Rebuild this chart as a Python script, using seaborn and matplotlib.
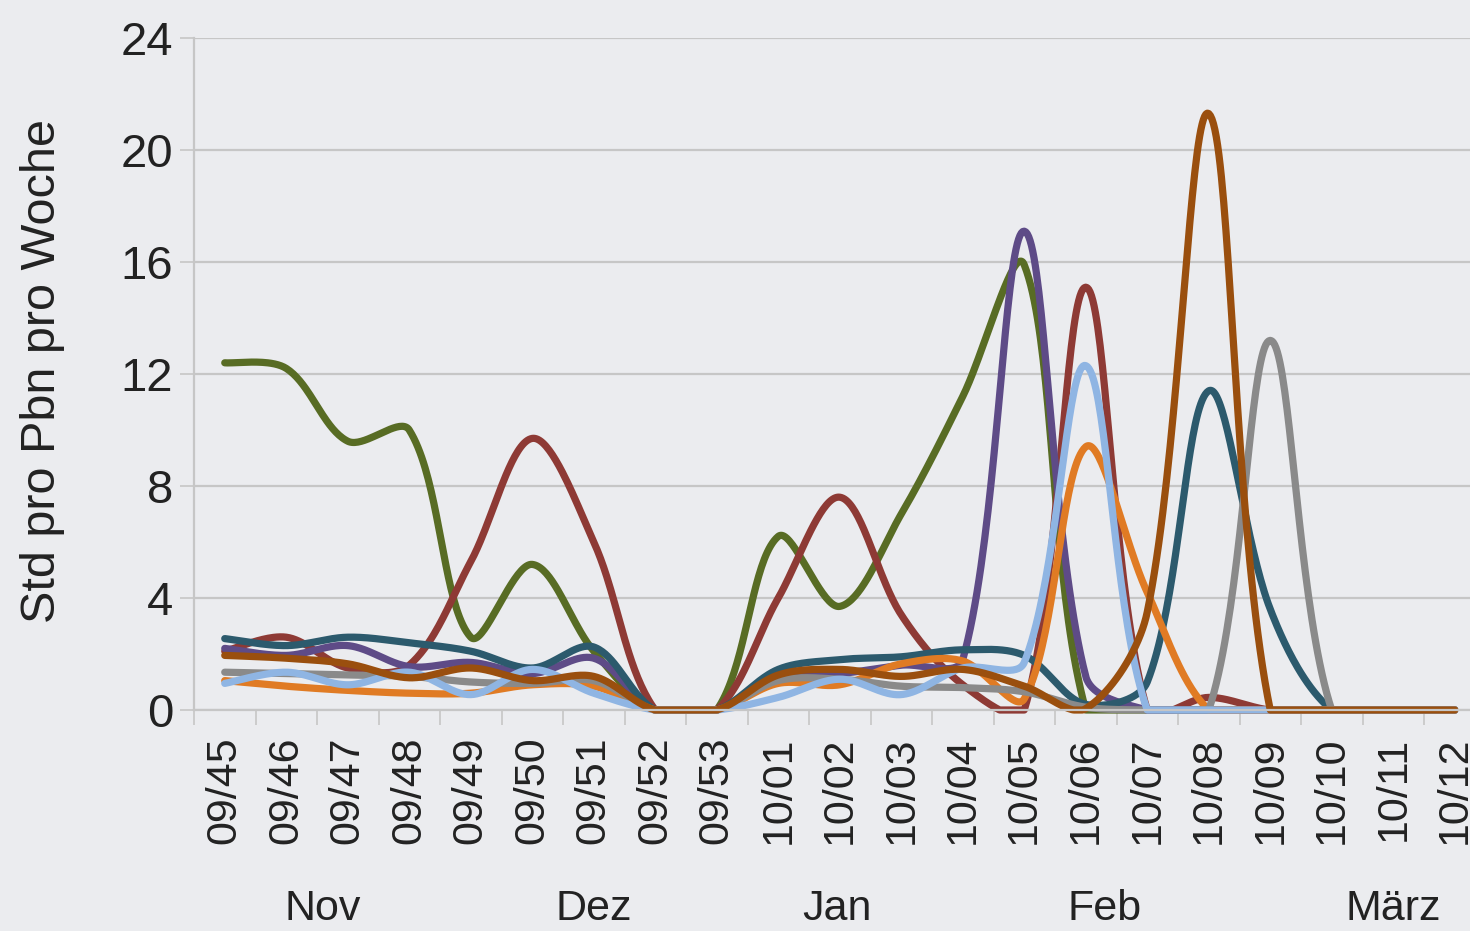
import numpy as np
import pandas as pd
import matplotlib
matplotlib.use("Agg")
import matplotlib.pyplot as plt
import matplotlib.transforms as mtransforms
import seaborn as sns

# ============================================================
# DATA (Std pro Pbn pro Woche)
# ============================================================

wochen = ["09/45", "09/46", "09/47", "09/48", "09/49", "09/50", "09/51", "09/52", "09/53",
          "10/01", "10/02", "10/03", "10/04", "10/05", "10/06", "10/07", "10/08", "10/09",
          "10/10", "10/11", "10/12"]

gruen = [12.4, 12.2, 9.6, 10.0, 2.6, 5.2, 2.1, 0, 0, 6.2, 3.7, 7.0, 11.2, 15.9, 0, 0, 0, 0, 0, 0, 0]
rot = [2.1, 2.6, 1.5, 1.6, 5.3, 9.7, 6.0, 0, 0, 4.0, 7.6, 3.4, 0.9, 0, 15.1, 0, 0.45, 0, 0, 0, 0]
lila = [2.2, 1.95, 2.3, 1.55, 1.7, 1.3, 1.85, 0, 0, 1.2, 1.3, 1.6, 1.8, 17.1, 1.2, 0, 0, 0, 0, 0, 0]
petrol = [2.55, 2.3, 2.6, 2.4, 2.1, 1.5, 2.25, 0, 0, 1.45, 1.8, 1.9, 2.15, 1.95, 0.2, 1.0, 11.4, 3.6, 0, 0, 0]
hellblau = [0.95, 1.35, 0.9, 1.35, 0.55, 1.45, 0.6, 0, 0, 0.45, 1.1, 0.55, 1.5, 1.7, 12.3, 0, 0, 0, 0, 0, 0]
orange = [1.05, 0.85, 0.7, 0.6, 0.6, 0.9, 0.85, 0, 0, 0.95, 0.9, 1.65, 1.75, 0.4, 9.4, 4.2, 0, 0, 0, 0, 0]
grau = [1.35, 1.3, 1.25, 1.2, 1.0, 0.95, 1.05, 0, 0, 1.05, 1.1, 0.85, 0.8, 0.65, 0.1, 0, 0, 13.2, 0, 0, 0]
braun = [1.95, 1.85, 1.65, 1.15, 1.5, 1.05, 1.2, 0, 0, 1.25, 1.45, 1.2, 1.45, 0.85, 0.05, 3.5, 21.3, 0, 0, 0, 0]

serien = {
    "gruen": gruen, "rot": rot, "lila": lila, "petrol": petrol,
    "orange": orange, "grau": grau, "hellblau": hellblau, "braun": braun,
}
farben = {
    "gruen": "#586c24", "rot": "#8e3a35", "lila": "#5e4b87", "petrol": "#2c5a6d",
    "orange": "#e07b24", "grau": "#8a8a8a", "hellblau": "#8fb5e3", "braun": "#9a4f0e",
}

monate = ["Nov", "Dez", "Jan", "Feb", "März"]
monat_pos = [1.6, 6.0, 9.95, 14.3, 19.0]

y_ticks = [0, 4, 8, 12, 16, 20, 24]

# ============================================================
# SMOOTHING (Excel-style Bezier through the read points)
# ============================================================

PX_X, PX_Y = 61.5, 28.0  # screen pixels per category / per unit


def glatt(werte, n=40, t=1 / 3):
    p = np.column_stack([np.arange(len(werte)) * PX_X, np.asarray(werte, float) * PX_Y])
    k = len(p)
    d = np.linalg.norm(np.diff(p, axis=0), axis=1)
    c_out = np.zeros_like(p)
    c_in = np.zeros_like(p)
    for i in range(k):
        if i == 0:
            tan = p[1] - p[0]
            c_out[i] = p[i] + tan * t * 0.5
        elif i == k - 1:
            tan = p[-1] - p[-2]
            c_in[i] = p[i] - tan * t * 0.5
        else:
            tan = p[i + 1] - p[i - 1]
            s = d[i - 1] + d[i]
            c_out[i] = p[i] + tan * t * d[i] / s
            c_in[i] = p[i] - tan * t * d[i - 1] / s
    u = np.linspace(0, 1, n, endpoint=False)[:, None]
    segs = []
    for i in range(k - 1):
        b = ((1 - u) ** 3 * p[i] + 3 * (1 - u) ** 2 * u * c_out[i]
             + 3 * (1 - u) * u ** 2 * c_in[i + 1] + u ** 3 * p[i + 1])
        segs.append(b)
    segs.append(p[-1:])
    pts = np.vstack(segs)
    return pts[:, 0] / PX_X, np.maximum(pts[:, 1] / PX_Y, 0)


rows = []
for name, werte in serien.items():
    xs, ys = glatt(werte)
    rows.append(pd.DataFrame({"x": xs, "wert": ys, "serie": name}))
df = pd.concat(rows, ignore_index=True)

# ============================================================
# PLOT
# ============================================================

sns.set_theme(style="white")
plt.rcParams["font.family"] = ["Liberation Sans", "DejaVu Sans"]

bg = "#ebecef"
grid_c = "#c6c6c6"

fig = plt.figure(figsize=(14.7, 9.31), dpi=100, facecolor=bg)
ax = fig.add_axes([194 / 1470, 221 / 931, 1291.5 / 1470, 672 / 931])
ax.set_facecolor(bg)

for y in y_ticks:
    ax.axhline(y, color=grid_c, lw=1.6, zorder=0)

sns.lineplot(data=df, x="x", y="wert", hue="serie", palette=farben, hue_order=list(serien.keys()),
             sort=False, estimator=None, linewidth=5.2, legend=False, ax=ax,
             solid_capstyle="round", solid_joinstyle="round", clip_on=False)

ax.set_xlim(-0.5, 20.5)
ax.set_ylim(0, 24)

ax.set_yticks(y_ticks)
ax.set_yticklabels([str(v) for v in y_ticks], fontsize=34, color="#222222")
ax.tick_params(axis="y", length=10, width=1.2, color=grid_c, pad=5, left=True)

ax.set_xticks(range(len(wochen)))
ax.set_xticklabels(wochen, rotation=90, fontsize=31, color="#222222")
ax.set_xticks(np.arange(-0.5, 20.6, 1), minor=True)
ax.tick_params(axis="x", which="major", length=0, pad=19)
ax.tick_params(axis="x", which="minor", length=11, width=1.2, color=grid_c, bottom=True)

for s in ["top", "right"]:
    ax.spines[s].set_visible(False)
ax.spines["left"].set_color(grid_c)
ax.spines["left"].set_linewidth(1.6)
ax.spines["bottom"].set_color(grid_c)
ax.spines["bottom"].set_linewidth(1.6)

ax.set_xlabel("")
ax.set_ylabel("Std pro Pbn pro Woche", fontsize=35, color="#222222")
ax.yaxis.set_label_coords(-0.1, 0.505)

trans = mtransforms.blended_transform_factory(ax.transData, fig.transFigure)
for txt, pos in zip(monate, monat_pos):
    ax.text(pos, 22 / 931, txt, transform=trans, ha="center", va="center",
            fontsize=31, color="#222222", clip_on=False)

fig.savefig("out.png", dpi=100, facecolor=bg)
